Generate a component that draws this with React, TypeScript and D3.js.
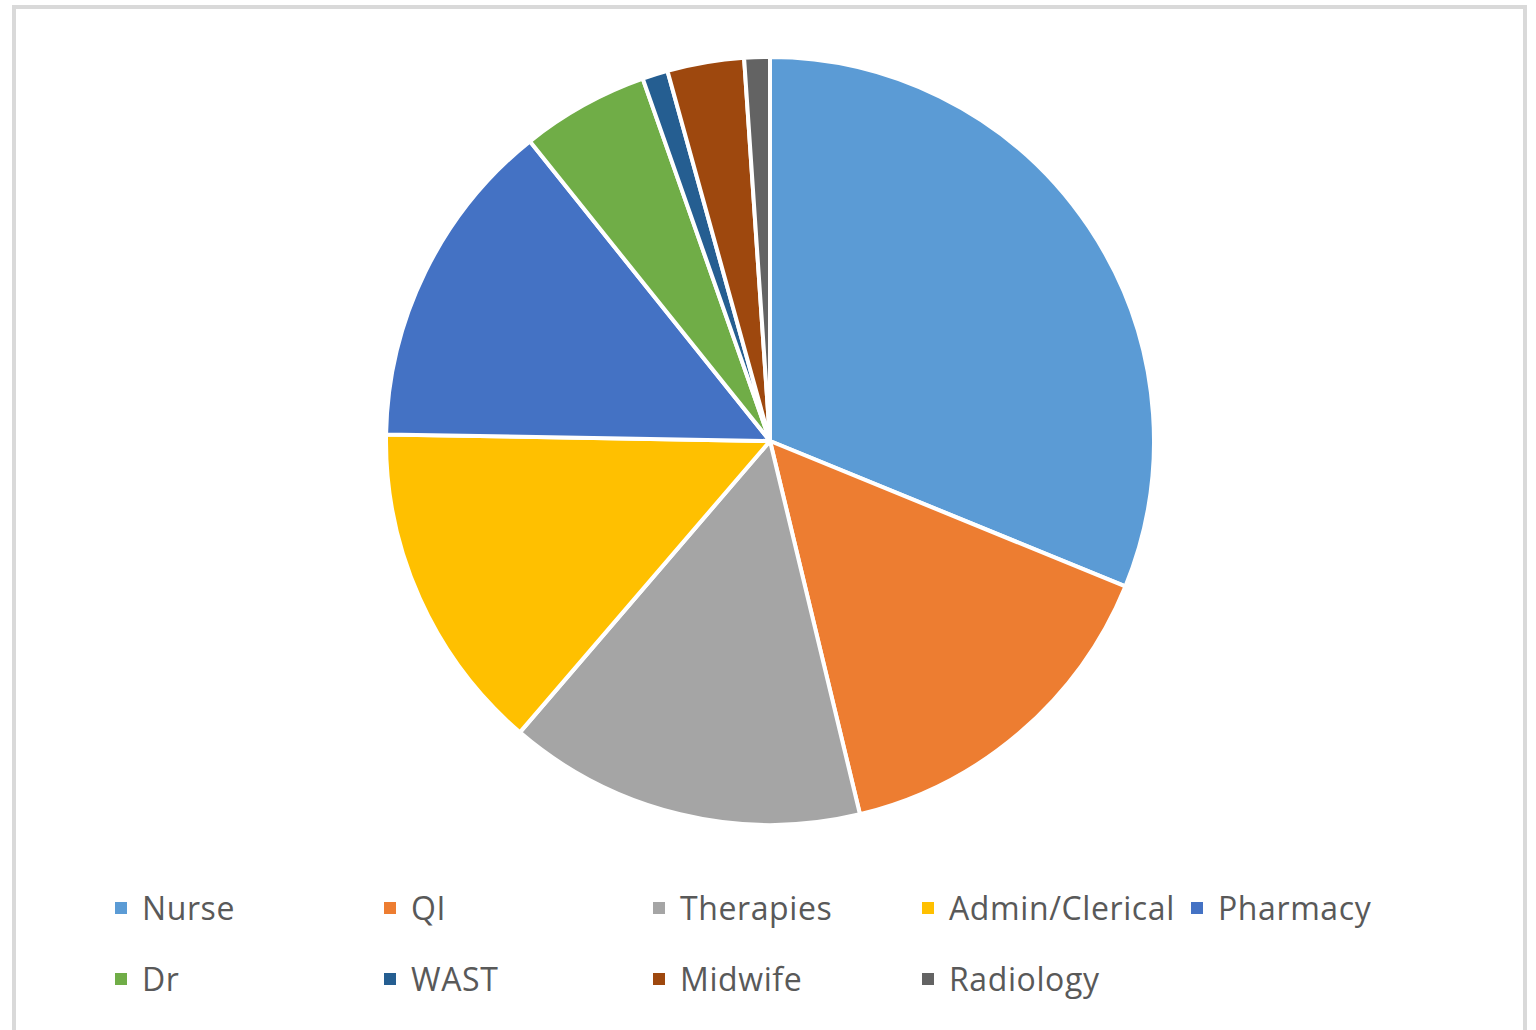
import React from "react";
import * as d3 from "d3";

const categories = ["Nurse", "QI", "Therapies", "Admin/Clerical", "Pharmacy", "Dr", "WAST", "Midwife", "Radiology"];
const counts = [29, 14, 14, 13, 13, 5, 1, 3, 1];
const colors = ["#5B9BD5", "#ED7D31", "#A5A5A5", "#FFC000", "#4472C4", "#70AD47", "#255E91", "#9E480E", "#636363"];

const W = 1536;
const H = 1030;
const cx = 770;
const cy = 441;
const R = 384;

export default function App() {
  const data = categories.map((c, i) => ({ name: c, value: counts[i], color: colors[i] }));
  const pie = d3.pie<any>().sort(null).value((d) => d.value);
  const arc = d3.arc<any>().innerRadius(0).outerRadius(R);
  const arcs = pie(data);

  const legendX = d3.scalePoint<number>().domain([0, 1, 2, 3, 4]).range([115, 115 + 269 * 4]);
  const rowBase = [920, 991];

  return (
    <svg
      width={W}
      height={H}
      style={{ position: "absolute", left: 0, top: 0, background: "#fff" }}
      fontFamily="'Open Sans', sans-serif"
    >
      <rect x={14} y={7} width={1511} height={1100} fill="#fff" stroke="#d9d9d9" strokeWidth={4} />
      <g transform={`translate(${cx},${cy})`}>
        {arcs.map((a, i) => (
          <path key={i} d={arc(a) || ""} fill={a.data.color} stroke="#fff" strokeWidth={4} strokeLinejoin="round" />
        ))}
      </g>
      <g>
        {data.map((d, i) => {
          const col = i % 5;
          const row = Math.floor(i / 5);
          const x = legendX(col) as number;
          const base = rowBase[row];
          return (
            <g key={d.name}>
              <rect x={x} y={base - 18} width={12} height={12} fill={d.color} />
              <text x={x + 27} y={base} fontSize={32} letterSpacing={0.6} fill="#595959">
                {d.name}
              </text>
            </g>
          );
        })}
      </g>
    </svg>
  );
}
